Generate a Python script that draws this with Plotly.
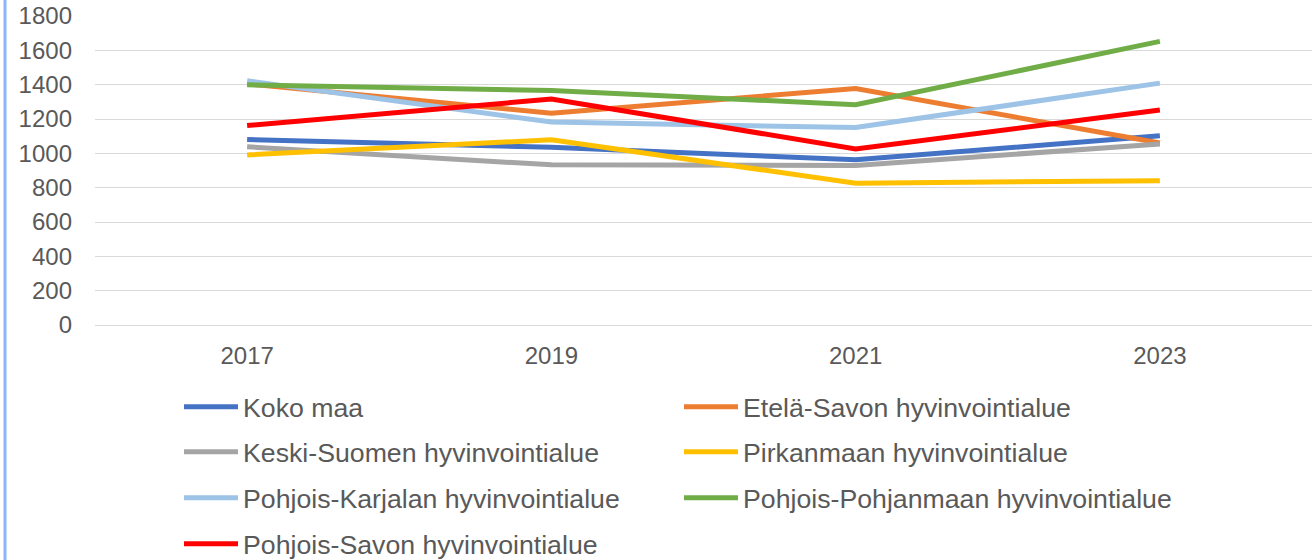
import plotly.graph_objects as go

years = ["2017", "2019", "2021", "2023"]
series_names = [
    "Koko maa",
    "Etelä-Savon hyvinvointialue",
    "Keski-Suomen hyvinvointialue",
    "Pirkanmaan hyvinvointialue",
    "Pohjois-Karjalan hyvinvointialue",
    "Pohjois-Pohjanmaan hyvinvointialue",
    "Pohjois-Savon hyvinvointialue",
]
koko_maa = [1080, 1035, 962, 1102]
etela_savo = [1405, 1234, 1378, 1060]
keski_suomi = [1038, 933, 929, 1055]
pirkanmaa = [991, 1079, 826, 841]
pohjois_karjala = [1423, 1182, 1150, 1409]
pohjois_pohjanmaa = [1399, 1366, 1283, 1652]
pohjois_savo = [1162, 1316, 1026, 1252]
y_ticks = [0, 200, 400, 600, 800, 1000, 1200, 1400, 1600, 1800]

values = [koko_maa, etela_savo, keski_suomi, pirkanmaa, pohjois_karjala, pohjois_pohjanmaa, pohjois_savo]
colors = ["#4472C4", "#ED7D31", "#A5A5A5", "#FFC000", "#9DC3E6", "#70AD47", "#FF0000"]

W, H = 1312, 560
ML, MR, MT, MB = 95, 0, 16, 235
pw = W - ML - MR
ph = H - MT - MB

def px_x(p):
    return (p - ML) / pw

def px_y(p):
    return (H - MB - p) / ph

# legend slot positions in pixels (row-major, 2 columns)
col_x = [179, 679]
row_y = [407, 452, 498, 544]

fig = go.Figure()
layout_legends = {}
for i, (name, vals, col) in enumerate(zip(series_names, values, colors)):
    lname = "legend" if i == 0 else f"legend{i+1}"
    fig.add_trace(go.Scatter(
        x=years, y=vals, name=name, mode="lines",
        line=dict(color=col, width=5),
        legend=lname,
    ))
    r, c = divmod(i, 2)
    layout_legends[lname] = dict(
        x=px_x(col_x[c]), y=px_y(row_y[r]),
        xanchor="left", yanchor="middle",
        orientation="h",
        font=dict(family="Liberation Sans, Arial, sans-serif", size=26.7, color="#595959"),
        bgcolor="rgba(0,0,0,0)", borderwidth=0,
        itemwidth=54,
    )

fig.update_layout(
    width=W, height=H,
    margin=dict(l=ML, r=MR, t=MT, b=MB, autoexpand=False),
    plot_bgcolor="white", paper_bgcolor="white",
    font=dict(family="Liberation Sans, Arial, sans-serif", color="#595959"),
    showlegend=True,
    **layout_legends,
)
fig.update_xaxes(
    type="category", range=[-0.5, 3.5],
    showgrid=False, showline=False, zeroline=False,
    tickfont=dict(size=24, color="#595959"),
    ticks="", ticklabelstandoff=14,
)
fig.update_yaxes(
    range=[0, 1800], tickvals=y_ticks,
    showgrid=True, gridcolor="#D9D9D9", gridwidth=1.3,
    zeroline=True, zerolinecolor="#D9D9D9", zerolinewidth=1.3,
    showline=False,
    tickfont=dict(size=24, color="#595959"),
    ticks="", ticklabelstandoff=22,
)
# left border of the chart frame
fig.add_shape(type="line", xref="paper", yref="paper",
              x0=px_x(5), x1=px_x(5), y0=px_y(0), y1=px_y(H),
              line=dict(color="#8DB3F8", width=3), layer="above")

fig.write_html("out.html", config={"displayModeBar": False},
               post_script="document.body.style.margin='0';")
